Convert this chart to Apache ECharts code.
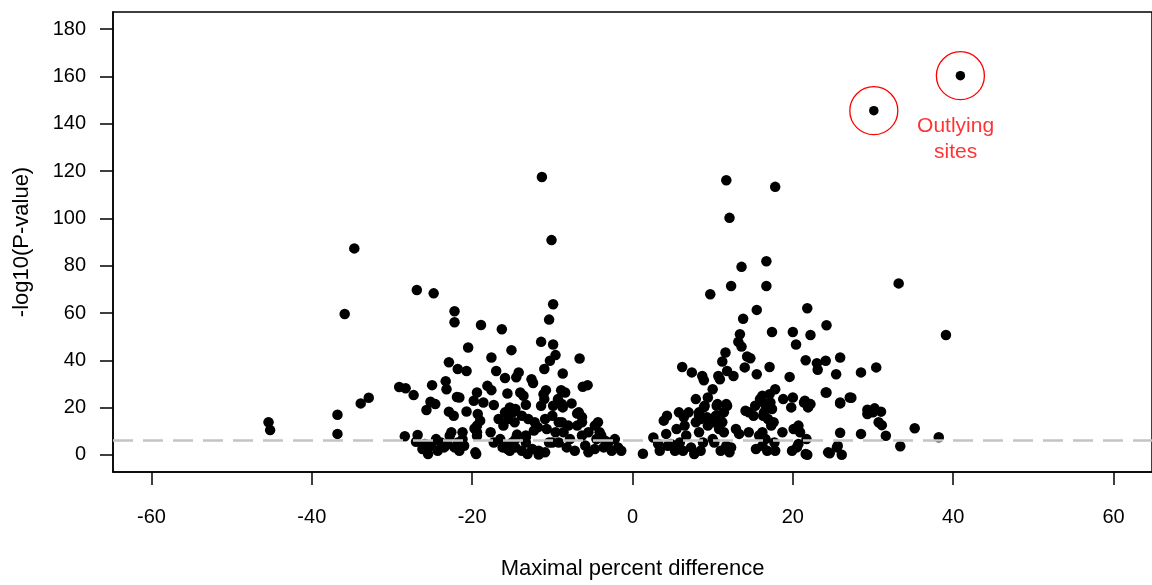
<!DOCTYPE html>
<html>
<head>
<meta charset="utf-8">
<script src="https://cdn.jsdelivr.net/npm/echarts@6/dist/echarts.min.js"></script>
<style>
html, body { margin: 0; padding: 0; background: #fff; }
#chart { width: 1152px; height: 585px; }
</style>
</head>
<body>
<div id="chart"></div>
<script>
// sites with a negative maximal difference
const leftSites = [
  [-45.4, 13.8], [-45.2, 10.5], [-36.8, 17.0], [-36.8, 8.9], [-35.9, 59.6], [-34.7, 87.3], [-33.9, 21.8], [-32.9, 24.2],
  [-29.1, 28.7], [-28.3, 28.2], [-27.3, 25.3], [-26.9, 69.7], [-24.8, 68.3], [-25.0, 29.5], [-23.3, 31.2], [-23.2, 27.8],
  [-22.2, 60.7], [-22.2, 56.1], [-22.9, 39.2], [-21.8, 36.3], [-20.7, 35.5], [-21.9, 24.5], [-25.2, 22.5], [-24.6, 21.5],
  [-25.7, 19.0], [-22.9, 18.3], [-22.3, 16.6],
  [-11.3, 117.5], [-10.1, 90.8], [-9.9, 63.7], [-10.4, 57.2], [-18.9, 54.9], [-16.3, 53.1], [-20.5, 45.4], [-15.1, 44.3],
  [-17.6, 41.2], [-11.4, 47.8], [-9.9, 46.7], [-6.6, 40.8], [-9.6, 42.2], [-10.3, 39.8], [-11.0, 36.3], [-8.7, 34.4],
  [-17.0, 35.5], [-15.9, 32.5], [-14.5, 32.8], [-14.2, 34.9], [-12.6, 32.0], [-12.4, 30.4], [-18.1, 29.2], [-17.6, 27.4],
  [-19.4, 26.4], [-19.8, 22.9], [-15.6, 26.0], [-14.0, 26.4], [-13.6, 25.0], [-10.8, 27.4], [-11.0, 23.6], [-11.4, 20.8],
  [-8.9, 27.4], [-9.3, 23.6], [-8.7, 20.1], [-9.9, 20.8], [-6.2, 28.8], [-5.6, 29.5], [-7.6, 21.8], [-21.6, 24.3],
  [-18.6, 22.2], [-17.3, 21.1], [-20.7, 18.4], [-19.3, 17.3], [-19.0, 14.5], [-19.4, 12.4], [-15.3, 20.1], [-14.9, 18.0],
  [-15.9, 18.0], [-16.7, 15.2], [-15.5, 15.2], [-14.7, 13.8], [-16.1, 12.4], [-13.3, 21.2], [-13.8, 16.6], [-13.0, 15.2],
  [-12.2, 13.8], [-11.8, 11.7],
  [-19.4, 9.6], [-19.7, 11.2], [-28.4, 7.9], [-26.8, 8.4], [-27.0, 5.6],
  [-25.9, 4.6], [-26.2, 2.5], [-25.5, 0.4], [-25.1, 3.9], [-24.5, 6.7], [-24.3, 1.8], [-23.9, 5.3], [-23.5, 3.2],
  [-22.6, 9.6], [-23.1, 4.6], [-22.8, 8.1], [-22.2, 3.2], [-21.8, 5.3], [-21.6, 1.8], [-21.2, 9.6], [-21.0, 3.9], [-21.2, 6.7],
  [-19.6, 1.1], [-19.4, 8.1], [-17.7, 9.6], [-17.3, 5.3], [-16.5, 6.7], [-16.2, 3.2], [-15.6, 2.5], [-15.0, 5.3],
  [-14.6, 6.7], [-14.6, 3.2], [-14.6, 19.4], [-12.3, 10.3], [-13.3, 8.2], [-14.4, 8.6], [-13.8, 1.8], [-13.1, 0.4],
  [-12.5, 2.5], [-11.7, 1.8], [-11.7, 0.2], [-10.9, 1.1], [-10.4, 5.3], [-10.7, 11.0], [-10.9, 15.2], [-10.0, 16.6],
  [-8.8, 21.5], [-9.2, 13.8], [-9.6, 9.6], [-9.2, 5.3], [-8.6, 9.6], [-8.2, 3.2], [-6.7, 18.0], [-6.9, 12.4],
  [-6.3, 13.8], [-6.3, 8.2], [-5.9, 4.0], [-5.5, 9.6], [-4.7, 12.4], [-4.5, 6.7], [-4.3, 13.8], [-4.1, 9.6],
  [-3.6, 3.2], [-3.0, 5.3], [-2.6, 1.8], [-2.2, 6.7], [-1.8, 3.2], [-1.4, 1.8],
  [-11.1, 25.7], [-8.4, 26.4], [-10.0, 5.3], [-7.8, 6.7], [-7.2, 1.8], [-5.5, 1.1], [-4.7, 2.5], [-3.9, 8.2],
  [-3.4, 6.0], [-8.0, 12.4], [-8.8, 13.8], [-6.9, 17.5], [-6.3, 16.0],
  [-15.7, 3.9], [-15.3, 1.8], [-13.3, 7.5], [-13.3, 5.3], [-19.5, 0.4]
]

// sites with a positive maximal difference
const rightSites = [
  [11.7, 116.1], [17.8, 113.3], [12.1, 100.2], [16.7, 81.9], [13.6, 79.5], [12.3, 71.4], [16.7, 71.4], [9.7, 67.9],
  [15.5, 61.3], [21.8, 62.0], [13.8, 57.6], [17.4, 52.0], [20.0, 52.0], [22.2, 50.7], [13.4, 51.0], [13.2, 47.8],
  [13.6, 45.8], [20.4, 46.7], [11.6, 43.3], [14.3, 41.6], [14.7, 40.9], [21.6, 40.0], [11.2, 39.5], [6.2, 37.2],
  [7.4, 34.9], [8.7, 33.4], [8.9, 31.6], [10.7, 33.4], [10.9, 32.0], [11.8, 35.5], [12.6, 33.4], [14.0, 37.0],
  [17.1, 37.2], [15.5, 34.1], [19.6, 33.0], [10.0, 27.8], [9.4, 24.3], [7.9, 23.6], [8.9, 20.1], [10.5, 20.8],
  [11.8, 20.8], [17.1, 25.7], [17.8, 27.8], [15.9, 23.6], [16.5, 21.5], [15.3, 20.8], [14.5, 18.0], [15.1, 16.6],
  [18.8, 23.6], [20.0, 24.3], [19.8, 20.1], [21.5, 22.9], [21.9, 20.1], [4.3, 16.6], [3.9, 14.5], [5.8, 18.0],
  [7.0, 18.0], [6.4, 15.9], [8.3, 18.0], [8.5, 15.2], [9.3, 15.9], [10.1, 13.8], [10.9, 16.6], [11.4, 18.0],
  [16.9, 15.2], [17.3, 12.4], [17.6, 13.8], [16.3, 16.6], [20.7, 12.4], [20.9, 9.6], [21.7, 6.7],
  [33.2, 72.5], [39.1, 50.7], [24.2, 54.8], [23.0, 38.8], [23.1, 36.0], [24.1, 39.8], [25.9, 41.2], [25.4, 34.1],
  [28.5, 34.9], [30.4, 37.0], [24.2, 26.4], [27.3, 24.2], [25.9, 21.8],
  [29.3, 19.1], [30.2, 19.7], [31.0, 18.3], [29.3, 17.3], [31.1, 12.6], [31.6, 8.1], [35.2, 11.3], [38.2, 7.5],
  [33.4, 3.7], [28.5, 8.9], [25.9, 9.4], [25.6, 3.9], [26.1, 0.1], [24.6, 0.7], [21.8, 0.1], [20.7, 4.6],
  [1.3, 0.5], [2.6, 7.4], [3.2, 4.6], [3.4, 1.8], [4.2, 8.9], [5.5, 11.0], [5.9, 5.3], [6.7, 8.2],
  [7.3, 3.2], [7.9, 13.8], [8.3, 16.6], [8.3, 9.6], [8.8, 5.3], [9.0, 20.8], [9.4, 12.4], [10.0, 6.7],
  [10.4, 16.6], [10.6, 21.5], [10.8, 11.0], [11.2, 13.8], [11.4, 9.6], [11.7, 21.5], [11.7, 3.9], [12.3, 3.2],
  [12.9, 11.0], [13.3, 8.9], [14.1, 18.7], [14.5, 9.6], [15.4, 2.5], [15.8, 8.2], [16.2, 3.9], [16.4, 18.0],
  [4.8, 4.6], [5.3, 1.8], [6.3, 1.8], [7.7, 0.4], [8.5, 1.8], [11.0, 1.8], [12.1, 1.1], [4.4, 3.9],
  [6.5, 12.4], [10.2, 5.3],
  [16.2, 25.0], [17.2, 22.2], [17.4, 19.4], [21.4, 22.2], [22.2, 21.5], [24.1, 26.4], [25.9, 22.2], [27.1, 24.3],
  [30.0, 18.0], [30.7, 13.8], [16.2, 9.6], [16.6, 6.7], [17.7, 5.3], [16.8, 1.8], [17.8, 1.8], [18.7, 9.6],
  [20.1, 11.0], [20.5, 3.2], [19.9, 1.8], [21.6, 0.4], [24.4, 1.1], [25.5, 3.2]
]

// the two circled outlying sites
const outlyingSites = [[30.1, 145.5], [40.9, 160.3]]

const threshold = 6.1
const xTicks = [-60, -40, -20, 0, 20, 40, 60]
const yTicks = [0, 20, 40, 60, 80, 100, 120, 140, 160, 180]
const noteAnchor = [40.3, 133.6]

const font = "'Liberation Sans', Arial, sans-serif"
const textColor = '#000'

const chart = echarts.init(document.getElementById('chart'))

const dotStyle = {
  type: 'scatter',
  symbol: 'circle',
  symbolSize: 10.5,
  itemStyle: { color: '#000', opacity: 1 },
  silent: true,
  z: 2
}

const option = {
  animation: false,
  grid: {
    left: 113,
    top: 12,
    width: 1046,
    height: 461,
    show: true,
    borderColor: '#000',
    borderWidth: 1.5
  },
  xAxis: {
    type: 'value',
    min: -64.8,
    max: 64.8,
    name: 'Maximal percent difference',
    nameLocation: 'middle',
    nameGap: 86,
    nameTextStyle: { fontFamily: font, fontSize: 22, color: textColor },
    axisLine: { show: true, onZero: false, lineStyle: { color: '#000', width: 1.5 } },
    axisTick: { show: true, customValues: xTicks, length: 13, lineStyle: { color: '#000', width: 1.5 } },
    axisLabel: { customValues: xTicks, margin: 35, fontFamily: font, fontSize: 20, color: textColor },
    splitLine: { show: false }
  },
  yAxis: {
    type: 'value',
    min: -7.2,
    max: 187.2,
    name: '-log10(P-value)',
    nameLocation: 'middle',
    nameGap: 80,
    nameRotate: 90,
    nameTextStyle: { fontFamily: font, fontSize: 22, color: textColor },
    axisLine: { show: true, onZero: false, lineStyle: { color: '#000', width: 1.5 } },
    axisTick: { show: true, customValues: yTicks, length: 13, lineStyle: { color: '#000', width: 1.5 } },
    axisLabel: { customValues: yTicks, margin: 27, fontFamily: font, fontSize: 20, color: textColor },
    splitLine: { show: false }
  },
  series: [
    Object.assign({ name: 'negative', data: leftSites }, dotStyle),
    Object.assign({ name: 'positive', data: rightSites }, dotStyle),
    Object.assign({ name: 'outlying', data: outlyingSites }, dotStyle, { symbolSize: 9.5 }),
    {
      name: 'rings',
      type: 'scatter',
      data: outlyingSites,
      symbol: 'circle',
      symbolSize: 48,
      itemStyle: { color: 'rgba(0,0,0,0)', borderColor: '#ff0000', borderWidth: 1.3, opacity: 1 },
      silent: true,
      z: 3
    },
    {
      name: 'threshold',
      type: 'scatter',
      data: [],
      z: 4,
      markLine: {
        silent: true,
        symbol: 'none',
        label: { show: false },
        lineStyle: { color: '#c4c4c4', width: 2.5, type: [20, 10], opacity: 1 },
        data: [{ yAxis: threshold }]
      }
    },
    {
      name: 'note',
      type: 'scatter',
      data: [noteAnchor],
      symbolSize: 0,
      silent: true,
      z: 5,
      label: {
        show: true,
        position: 'inside',
        formatter: 'Outlying\nsites',
        fontFamily: font,
        fontSize: 21,
        lineHeight: 26,
        color: '#ff0000',
        align: 'center'
      }
    }
  ]
}

chart.setOption(option)
</script>
</body>
</html>
